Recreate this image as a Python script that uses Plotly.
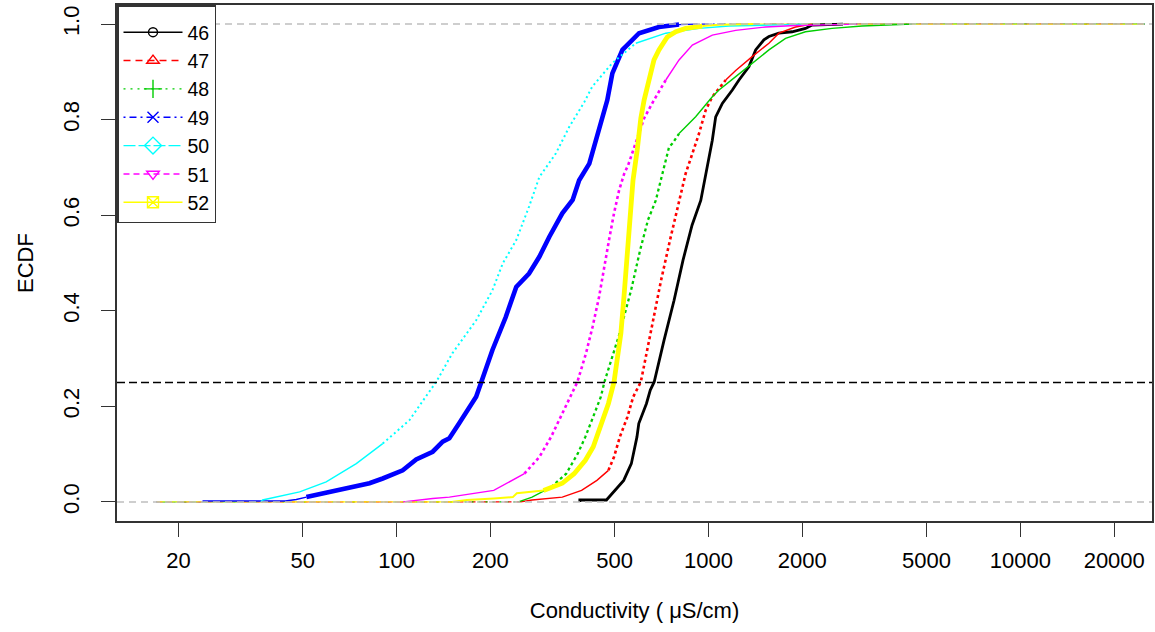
import math
import plotly.graph_objects as go

# ---------------- data ----------------
series_names = ["46", "47", "48", "49", "50", "51", "52"]
series_colors = ["#000000", "#FF0000", "#00CD00", "#0000FF", "#00FFFF", "#FF00FF", "#FFFF00"]

cond_46 = [387, 387, 471, 491, 535, 566, 590, 598, 616, 633, 651, 670, 721, 776, 829, 886, 945, 980,
           1029, 1055, 1108, 1193, 1253, 1349, 1417, 1506, 1563, 1682, 1855, 2047, 2150, 2700]
ecdf_46 = [0, 0.004, 0.004, 0.018, 0.045, 0.080, 0.136, 0.164, 0.185, 0.206, 0.234, 0.251, 0.339,
           0.422, 0.506, 0.579, 0.631, 0.687, 0.757, 0.806, 0.834, 0.862, 0.883, 0.911, 0.946, 0.967,
           0.974, 0.981, 0.984, 0.991, 0.998, 1.0]

cond_47 = [250, 272, 340, 392, 439, 478, 498, 520, 550, 574, 607, 655, 705, 753, 805, 845, 888, 933,
           980, 1029, 1136, 1223, 1381, 1563, 1682, 1902, 2146]
ecdf_47 = [0, 0.004, 0.010, 0.024, 0.045, 0.066, 0.094, 0.136, 0.178, 0.220, 0.251, 0.359, 0.464,
           0.548, 0.631, 0.687, 0.729, 0.771, 0.820, 0.848, 0.883, 0.903, 0.932, 0.960, 0.981, 0.994, 1.0]

cond_48 = [246, 272, 313, 350, 381, 403, 427, 452, 464, 517, 565, 604, 640, 678, 712, 748, 766, 805,
           910, 1029, 1081, 1223, 1381, 1563, 1767, 2047, 2492, 3108, 4500]
ecdf_48 = [0, 0.010, 0.031, 0.059, 0.101, 0.136, 0.178, 0.220, 0.251, 0.349, 0.443, 0.527, 0.590,
           0.631, 0.687, 0.743, 0.750, 0.771, 0.806, 0.848, 0.862, 0.890, 0.918, 0.946, 0.970, 0.984,
           0.991, 0.996, 1.0]

cond_49 = [24, 24, 44, 47.7, 51.4, 61.0, 70.7, 81.9, 90.3, 104.7, 115.6, 130.6, 140.6, 147.7, 159, 180,
           187, 203, 224, 242, 266, 287, 309, 340, 367, 385, 415, 436, 457, 474, 492, 530, 599, 694, 805, 910]
ecdf_49 = [0, 0.002, 0.002, 0.005, 0.010, 0.021, 0.028, 0.039, 0.049, 0.066, 0.089, 0.105, 0.126, 0.133,
           0.165, 0.220, 0.251, 0.318, 0.387, 0.450, 0.478, 0.513, 0.555, 0.604, 0.632, 0.673, 0.708,
           0.757, 0.806, 0.841, 0.897, 0.946, 0.981, 0.994, 0.999, 1.0]

cond_50 = [36.7, 37.2, 48.9, 59.5, 74.3, 90.3, 110, 124, 134, 151, 180, 203, 219, 242, 266, 287, 324,
           358, 400, 424, 491, 585, 730, 933, 1164, 1682, 2000]
ecdf_50 = [0, 0.004, 0.021, 0.042, 0.080, 0.122, 0.171, 0.220, 0.251, 0.311, 0.380, 0.443, 0.499,
           0.548, 0.618, 0.680, 0.729, 0.785, 0.837, 0.869, 0.918, 0.960, 0.981, 0.991, 0.996, 0.9985, 1.0]

cond_51 = [105, 116.7, 130.6, 147.7, 205, 257, 287, 313, 340, 362, 380, 405, 425, 446, 463, 480, 498,
           517, 537, 553, 622, 669, 730, 805, 888, 1029, 1223, 1525, 1902, 2432, 3000]
ecdf_51 = [0, 0.004, 0.007, 0.010, 0.024, 0.059, 0.094, 0.136, 0.185, 0.220, 0.251, 0.311, 0.366,
           0.429, 0.492, 0.548, 0.604, 0.652, 0.687, 0.705, 0.803, 0.841, 0.883, 0.925, 0.956, 0.977,
           0.987, 0.994, 0.997, 0.9985, 1.0]

cond_52 = [150, 168, 205, 236, 243, 296, 340, 371, 403, 427, 452, 478, 498, 524, 537, 550, 557, 573,
           591, 607, 622, 645, 669, 694, 738, 786, 845, 956, 1081, 1400]
ecdf_52 = [0, 0.004, 0.007, 0.010, 0.018, 0.024, 0.039, 0.059, 0.087, 0.115, 0.164, 0.206, 0.251,
           0.353, 0.436, 0.527, 0.583, 0.673, 0.736, 0.803, 0.841, 0.883, 0.925, 0.946, 0.973, 0.984,
           0.991, 0.996, 0.9985, 1.0]

pooled_min = 17        # smallest conductivity over all stations
pooled_max = 25000     # largest conductivity over all stations
reference_levels = [0, 1]
quartile_level = 0.25

xtick_vals = [20, 50, 100, 200, 500, 1000, 2000, 5000, 10000, 20000]
xtick_text = ["20", "50", "100", "200", "500", "1000", "2000", "5000", "10000", "20000"]
ytick_vals = [0, 0.2, 0.4, 0.6, 0.8, 1.0]
ytick_text = ["0.0", "0.2", "0.4", "0.6", "0.8", "1.0"]

# ---------------- styles ----------------
conds = [cond_46, cond_47, cond_48, cond_49, cond_50, cond_51, cond_52]
ecdfs = [ecdf_46, ecdf_47, ecdf_48, ecdf_49, ecdf_50, ecdf_51, ecdf_52]
legend_symbols = ["circle-open", "triangle-up-open", "cross-thin-open", "x-thin-open",
                  "diamond-open", "triangle-down-open", "square-x-open"]
legend_msize = [9, 11, 13, 11, 13, 11, 11]
legend_dash = ["solid", "7px,5px", "2px,5px", "2px,4px,7px,4px", "12px,3px", "6px,4px", "solid"]
# (band lo, band hi, band width, band dash, outer width, outer dash)
band_styles = [
    (0.0, 1.0, 2.8, "solid", 2.0, "solid"),
    (0.05, 0.85, 2.6, "3px,3px", 1.4, "solid"),
    (0.03, 0.76, 2.3, "3px,3px", 1.4, "solid"),
    (0.01, 0.995, 4.6, "solid", 1.4, "solid"),
    (0.10, 0.93, 2.0, "2px,3px", 1.4, "solid"),
    (0.05, 0.85, 2.6, "3px,3px", 1.4, "solid"),
    (0.02, 0.995, 4.8, "solid", 2.0, "solid"),
]
extend_left = [False, True, True, True, True, True, True]


def split_band(xs, ps, lo, hi):
    segs = []
    cx, cp = [xs[0]], [ps[0]]
    cin = lo <= ps[0] <= hi
    for x, p in zip(xs[1:], ps[1:]):
        inb = lo <= p <= hi
        cx.append(x)
        cp.append(p)
        if inb != cin:
            segs.append((cx, cp, cin))
            cx, cp, cin = [x], [p], inb
    if len(cx) > 1:
        segs.append((cx, cp, cin))
    return segs


fig = go.Figure()

# legend proxies
for name, col, sym, ms, dsh in zip(series_names, series_colors, legend_symbols, legend_msize, legend_dash):
    fig.add_trace(go.Scatter(
        x=[None], y=[None], mode="lines+markers", name=name,
        line=dict(color=col, width=1.4, dash=dsh),
        marker=dict(symbol=sym, size=ms, color=col, line=dict(color=col, width=1.4)),
    ))

# step extensions (thin, in each series' line type)
for i, (xs, ps) in enumerate(zip(conds, ecdfs)):
    col = series_colors[i]
    if extend_left[i]:
        fig.add_trace(go.Scatter(x=[pooled_min, xs[0]], y=[ps[0], ps[0]], mode="lines",
                                 line=dict(color=col, width=1.2, dash=legend_dash[i]),
                                 showlegend=False, hoverinfo="skip"))
    fig.add_trace(go.Scatter(x=[xs[-1], pooled_max], y=[ps[-1], ps[-1]], mode="lines",
                             line=dict(color=col, width=1.2, dash=legend_dash[i]),
                             showlegend=False, hoverinfo="skip"))

# ECDF curves
for i, (xs, ps) in enumerate(zip(conds, ecdfs)):
    col = series_colors[i]
    lo, hi, bw, bd, ow, od = band_styles[i]
    for sx, sp, inb in split_band(xs, ps, lo, hi):
        fig.add_trace(go.Scatter(
            x=sx, y=sp, mode="lines",
            line=dict(color=col, width=bw if inb else ow, dash=bd if inb else od),
            showlegend=False, hoverinfo="skip"))

for lvl in reference_levels:
    fig.add_shape(type="line", xref="paper", x0=0, x1=1, yref="y", y0=lvl, y1=lvl,
                  line=dict(color="#BEBEBE", width=1.5, dash="7px,5px"), layer="above")
fig.add_shape(type="line", xref="paper", x0=0, x1=1, yref="y", y0=quartile_level, y1=quartile_level,
              line=dict(color="#000000", width=1.5, dash="8px,4px"), layer="above")

font_family = "Liberation Sans, Arial, sans-serif"
fig.update_layout(
    width=1155, height=632,
    margin=dict(l=117, r=1, t=5, b=111),
    plot_bgcolor="white", paper_bgcolor="white",
    font=dict(family=font_family, size=22, color="#000000"),
    showlegend=True,
    legend=dict(x=0, y=1, xanchor="left", yanchor="top", bordercolor="#333333", borderwidth=1.5,
                bgcolor="white", font=dict(size=19.5, family=font_family), itemwidth=59,
                entrywidth=100, entrywidthmode="pixels", tracegroupgap=0,
                title=dict(text=" ", font=dict(size=5))),
)
fig.update_xaxes(
    type="log", range=[math.log10(12.7), math.log10(26430)],
    tickmode="array", tickvals=xtick_vals, ticktext=xtick_text,
    ticks="outside", ticklen=14, tickwidth=1.2, tickcolor="#333333",
    showline=True, linecolor="#333333", linewidth=1.5, mirror=True,
    showgrid=False, zeroline=False, ticklabelstandoff=5,
    title=dict(text="Conductivity ( μS/cm)", standoff=30, font=dict(size=22)),
)
fig.update_yaxes(
    range=[-0.04, 1.04], tickmode="array", tickvals=ytick_vals, ticktext=ytick_text,
    tickangle=-90, ticks="outside", ticklen=14, tickwidth=1.2, tickcolor="#333333",
    showline=True, linecolor="#333333", linewidth=1.5, mirror=True,
    showgrid=False, zeroline=False, ticklabelstandoff=13,
    title=dict(text="ECDF", standoff=20, font=dict(size=22)),
)

fig.write_html("out.html", config={"displayModeBar": False},
               post_script="document.body.style.margin='0';document.body.style.overflow='hidden';")
